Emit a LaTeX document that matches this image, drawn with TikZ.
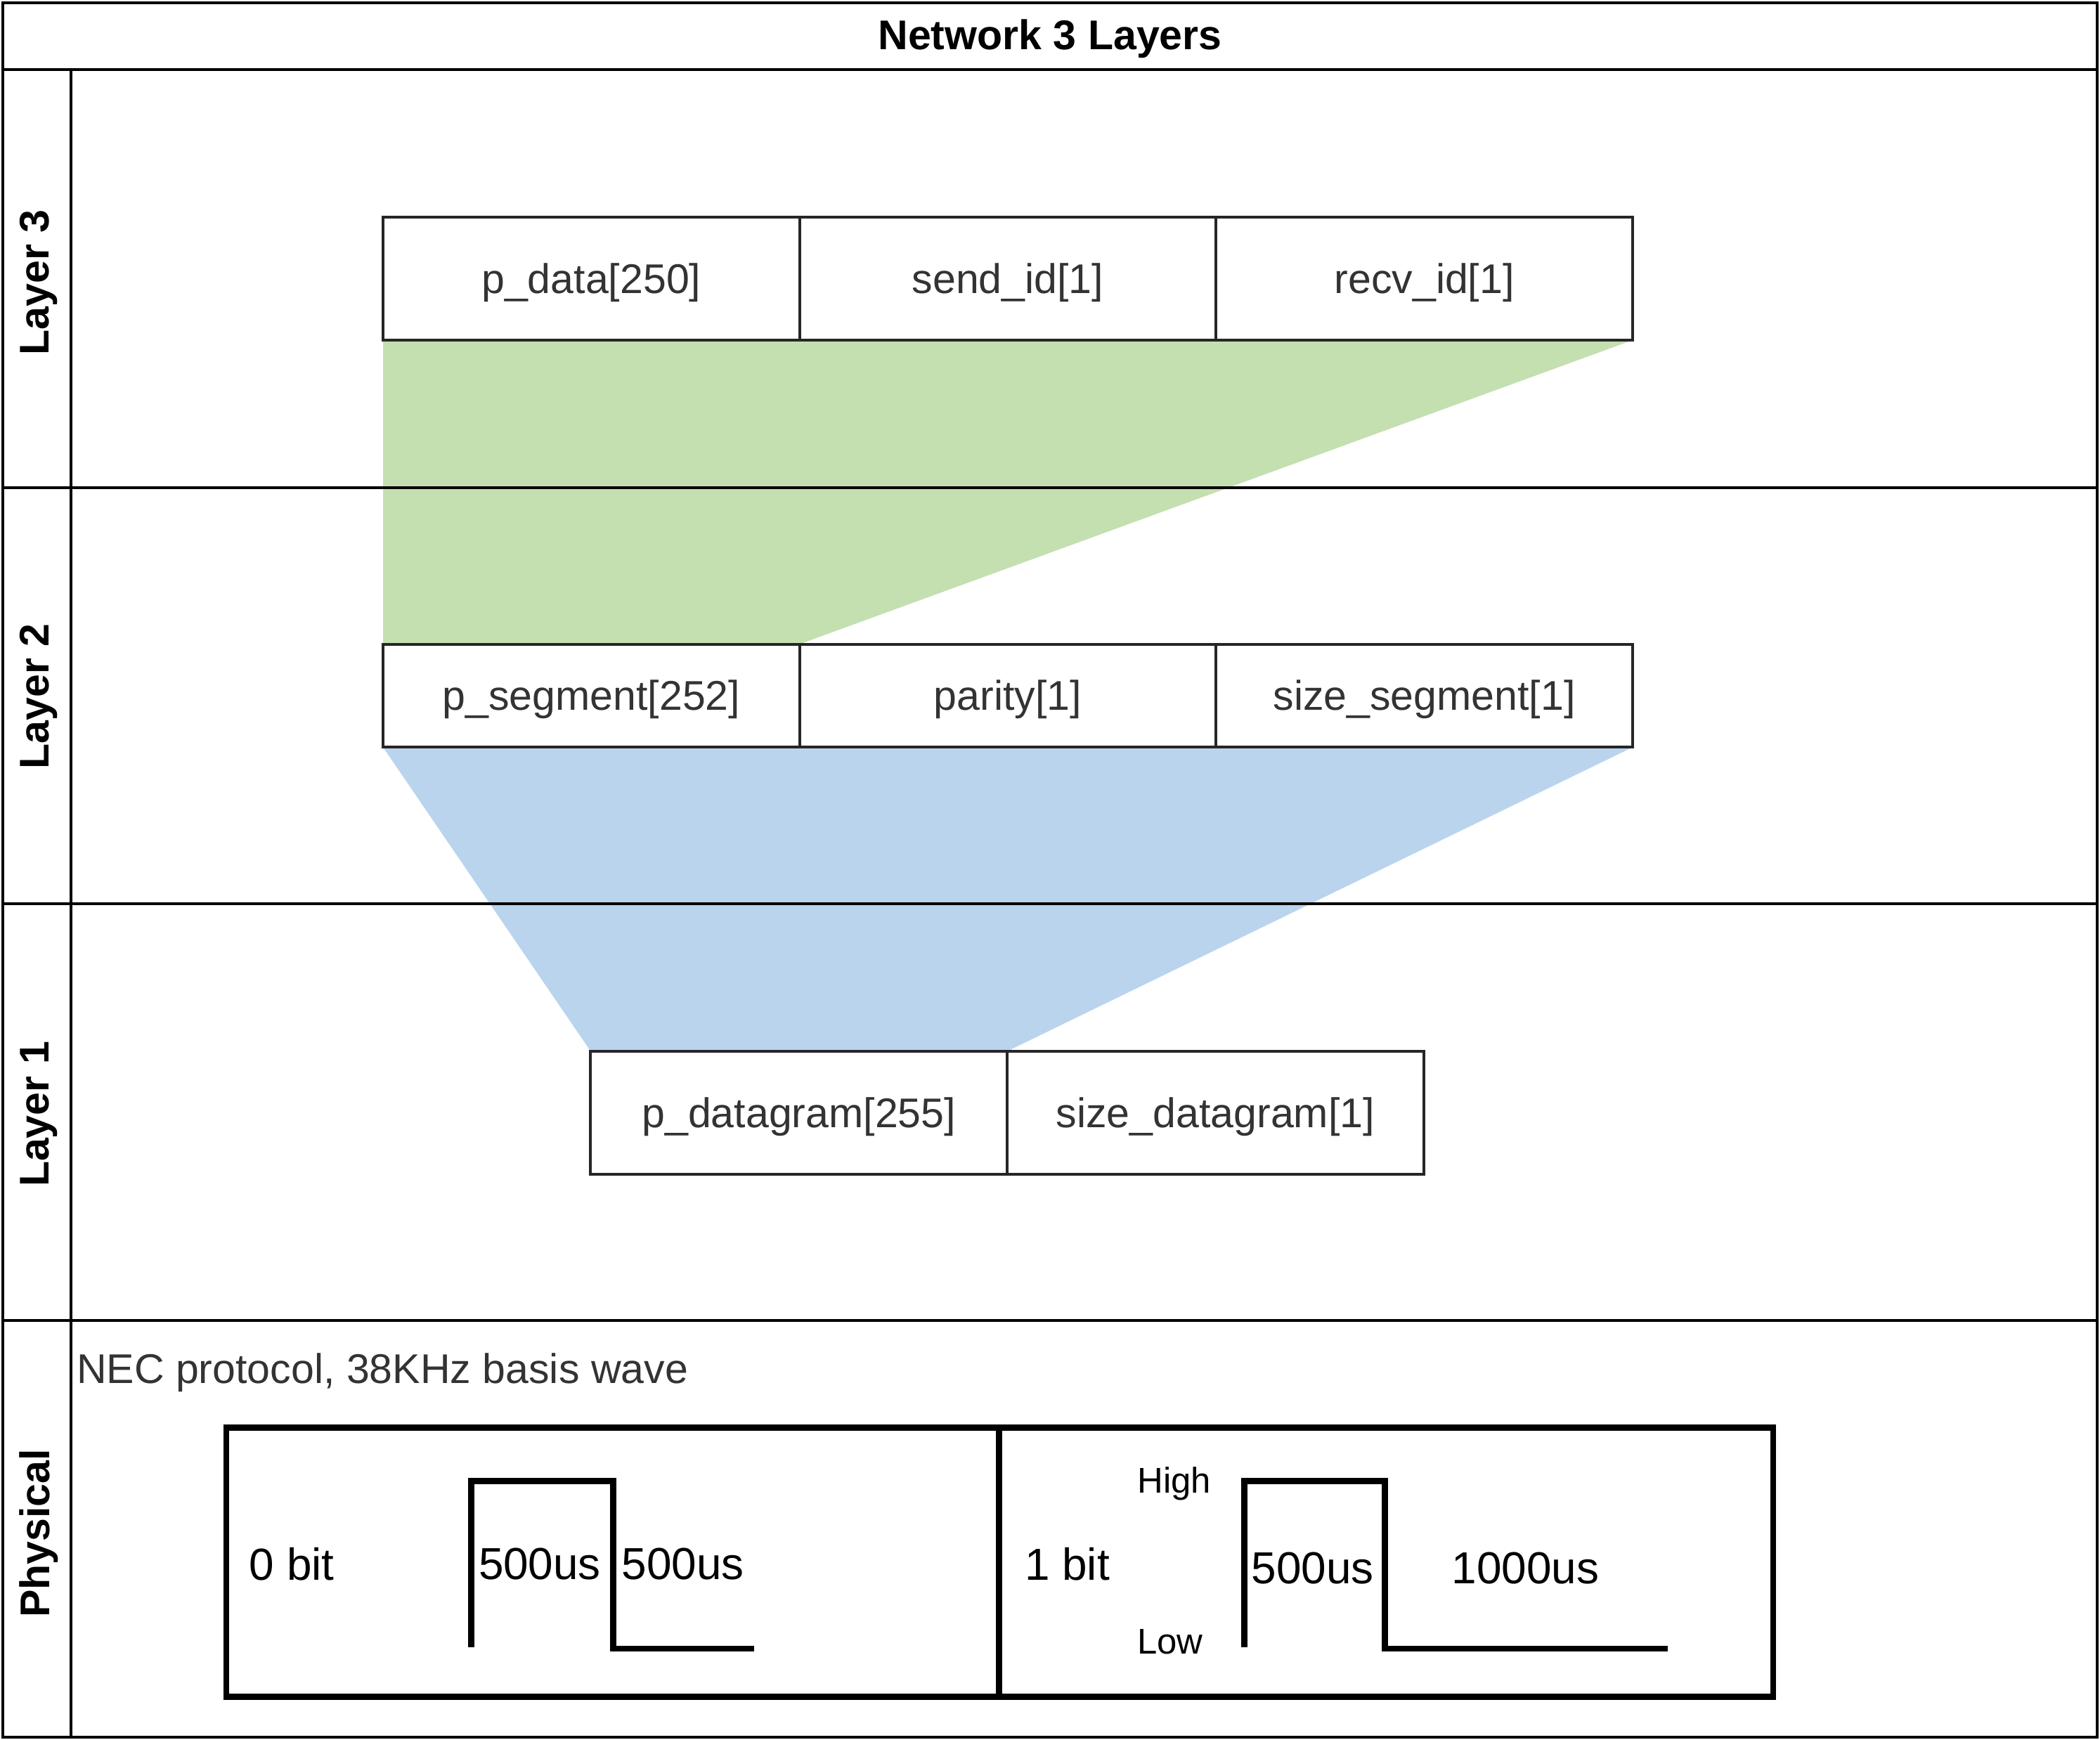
\documentclass[tikz,border=0pt]{standalone}
\usepackage{fontspec}
\setmainfont{Liberation Sans}
\usetikzlibrary{positioning,backgrounds}

\definecolor{greenfill}{RGB}{196,223,176}
\definecolor{bluefill}{RGB}{186,212,238}
\definecolor{celltext}{RGB}{51,51,51}

\tikzset{
  cell/.style={draw=black!85,line width=2pt,outer sep=0pt,inner sep=0pt,
    minimum width=311pt,minimum height=92pt,text=celltext,
    text height=26pt,text depth=4pt,
    font=\fontsize{31}{37}\selectfont},
  lane/.style={rotate=90,font=\bfseries\fontsize{31}{37}\selectfont},
  bitbox/.style={draw,line width=4.5pt,outer sep=0pt,inner sep=0pt,
    minimum width=577pt,minimum height=201pt},
  wave/.style={line width=4.5pt},
  timing/.style={inner sep=0pt,font=\fontsize{33.5}{40}\selectfont},
  level/.style={inner sep=0pt,anchor=west,font=\fontsize{26.7}{32}\selectfont},
}

\begin{document}
\begin{tikzpicture}[x=1pt,y=-1pt]
\useasboundingbox (0,0) rectangle (1568,1299);

% frame of the lanes
\draw[line width=2pt] (2,2) rectangle (1566,1297);
\draw[line width=2pt] (2,52) -- (1566,52);
\draw[line width=2pt] (53,52) -- (53,1297);
\foreach \y in {364,675,986}
	\draw[line width=2pt] (2,\y) -- (1566,\y);

\node[font=\bfseries\fontsize{31}{37}\selectfont] (title) at (784,29) {Network 3 Layers};
\node[lane] (lthree) at (29,211) {Layer 3};
\node[lane] (ltwo) at (29,520) {Layer 2};
\node[lane] (lone) at (29,832) {Layer 1};
\node[lane] (lphys) at (29,1145) {Physical};

% layer 3
\node[cell] (pdata) at (441.5,208) {p\_data[250]};
\node[cell,right=0pt of pdata] (sendid) {send\_id[1]};
\node[cell,right=0pt of sendid] (recvid) {recv\_id[1]};

% layer 2
\node[cell,minimum height=77pt] (psegment) at (441.5,519.5) {p\_segment[252]};
\node[cell,minimum height=77pt,right=0pt of psegment] (parity) {parity[1]};
\node[cell,minimum height=77pt,right=0pt of parity] (sizesegment) {size\_segment[1]};

% layer 1
\node[cell] (pdatagram) at (596.5,831) {p\_datagram[255]};
\node[cell,right=0pt of pdatagram] (sizedatagram) {size\_datagram[1]};

\begin{scope}[on background layer]
\fill[greenfill] (pdata.south west) -- (recvid.south east) -- (psegment.north east) -- (psegment.north west) -- cycle;
\fill[bluefill] (psegment.south west) -- (sizesegment.south east) -- (pdatagram.north east) -- (pdatagram.north west) -- cycle;
\end{scope}

% physical
\node[anchor=west,inner sep=0pt,text=celltext,font=\fontsize{31}{37}\selectfont] (nec) at (57,1025) {NEC protocol, 38KHz basis wave};
\node[bitbox] (zerobox) at (457.5,1166.5) {};
\node[bitbox,minimum width=578pt,right=0pt of zerobox] (onebox) {};

\draw[wave] (352,1230) -- (352,1106) -- (458,1106) -- (458,1231) -- (563,1231);
\draw[wave] (929,1230) -- (929,1106) -- (1034,1106) -- (1034,1231) -- (1245,1231);

\node[timing,anchor=west] (zerolabel) at (186,1168) {0 bit};
\node[timing] (zerohigh) at (403,1168) {500us};
\node[timing] (zerolow) at (510,1168) {500us};
\node[timing,anchor=west] (onelabel) at (765,1168) {1 bit};
\node[level] (high) at (849,1108) {High};
\node[level] (low) at (849,1226) {Low};
\node[timing] (onehigh) at (980,1171) {500us};
\node[timing] (onelow) at (1139,1171) {1000us};

\end{tikzpicture}
\end{document}
